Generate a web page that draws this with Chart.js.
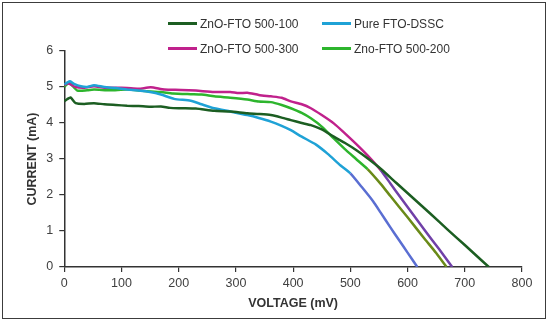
<!DOCTYPE html>
<html>
<head>
<meta charset="utf-8">
<script src="https://cdn.jsdelivr.net/npm/chart.js@4.4.0/dist/chart.umd.min.js"></script>
<style>
  html, body { margin: 0; padding: 0; background: #fff; }
  #wrap { position: relative; width: 550px; height: 323px; }
  #frame {
    position: absolute; left: 2px; top: 2px; width: 544px; height: 317px;
    border: 1.6px solid #3c3c3c; box-sizing: border-box;
  }
  #chart { position: absolute; left: 0; top: 0; }
  #legend {
    position: absolute; left: 168px; top: 13.5px;
    display: grid; grid-template-columns: 154px 160px; row-gap: 5px;
    font-family: "Liberation Sans", Arial, sans-serif; font-size: 12px; color: #333;
  }
  .item { display: flex; align-items: center; height: 20px; white-space: nowrap; }
  .swatch { display: inline-block; width: 29px; height: 3px; margin-right: 3px; }
</style>
</head>
<body>
<div id="wrap">
  <div id="frame"></div>
  <canvas id="chart" width="550" height="323"></canvas>
  <div id="legend"></div>
</div>
<script>
// ZnO-FTO 500-100
const v100 = [0, 5, 11, 20, 35, 52, 70, 90, 110, 130, 150, 169, 185, 204, 230, 262, 290, 320, 340, 361, 380, 396, 415, 431, 450, 471, 490, 510, 530, 553, 580, 610, 640, 670, 700, 720, 742];
const i100 = [4.6, 4.66, 4.71, 4.55, 4.53, 4.55, 4.52, 4.5, 4.48, 4.47, 4.45, 4.46, 4.42, 4.41, 4.4, 4.34, 4.32, 4.27, 4.25, 4.22, 4.15, 4.08, 4.0, 3.94, 3.82, 3.62, 3.45, 3.25, 3.02, 2.73, 2.34, 1.91, 1.48, 1.04, 0.61, 0.32, 0];

// Pure FTO-DSSC
const vPure = [0, 5, 10, 18, 29, 40, 52, 70, 90, 110, 130, 150, 169, 192, 221, 240, 262, 290, 320, 340, 361, 380, 396, 415, 440, 460, 483, 500, 520, 540, 553, 570, 585, 600, 617];
const iPure = [5.07, 5.12, 5.16, 5.08, 5.02, 5.0, 5.05, 5.0, 4.97, 4.93, 4.9, 4.86, 4.79, 4.67, 4.62, 4.52, 4.41, 4.32, 4.22, 4.14, 4.04, 3.92, 3.8, 3.62, 3.4, 3.15, 2.82, 2.6, 2.22, 1.82, 1.51, 1.1, 0.75, 0.4, 0];

// ZnO-FTO 500-300
const v300 = [0, 5, 10, 20, 35, 52, 70, 90, 110, 130, 151, 175, 204, 230, 262, 290, 305, 320, 340, 361, 380, 396, 415, 431, 450, 471, 490, 510, 530, 553, 570, 590, 610, 630, 655, 678];
const i300 = [5.05, 5.1, 5.08, 5.0, 4.98, 5.02, 4.98, 4.98, 4.97, 4.95, 4.99, 4.93, 4.92, 4.9, 4.86, 4.86, 4.83, 4.84, 4.78, 4.74, 4.7, 4.6, 4.52, 4.41, 4.22, 3.99, 3.72, 3.42, 3.1, 2.69, 2.32, 1.88, 1.45, 1.02, 0.5, 0];

// Zno-FTO 500-200
const v200 = [0, 5, 10, 23, 40, 52, 80, 110, 140, 169, 190, 221, 240, 262, 290, 320, 340, 361, 380, 396, 415, 431, 450, 471, 490, 510, 530, 553, 570, 600, 630, 650, 668];
const i200 = [5.0, 5.08, 5.1, 4.9, 4.91, 4.93, 4.91, 4.93, 4.89, 4.86, 4.82, 4.8, 4.79, 4.74, 4.7, 4.65, 4.6, 4.58, 4.5, 4.41, 4.28, 4.13, 3.9, 3.57, 3.28, 3.0, 2.72, 2.31, 1.97, 1.38, 0.78, 0.39, 0];

const xTicks = [0, 100, 200, 300, 400, 500, 600, 700, 800];
const yTicks = [0, 1, 2, 3, 4, 5, 6];

function pts(vs, is) {
  return vs.map((v, k) => ({ x: v, y: is[k] }));
}

// lower part of some curves is drawn in a shifted colour in the original
function series(label, vs, is, color, lowColor) {
  return {
    label: label,
    data: pts(vs, is),
    borderColor: color,
    backgroundColor: color,
    borderWidth: 2.5,
    pointRadius: 0,
    tension: 0.2,
    segment: {
      borderColor: c => (lowColor && c.p0.parsed.y < 2.75) ? lowColor : color
    }
  };
}

const datasets = [
  series('ZnO-FTO 500-100', v100, i100, '#1c5e22', null),
  series('Pure FTO-DSSC', vPure, iPure, '#1fa2d6', '#5a6ed2'),
  series('ZnO-FTO 500-300', v300, i300, '#c0218c', '#7040a8'),
  series('Zno-FTO 500-200', v200, i200, '#2db52d', '#6a8a18')
];

const tickFont = { family: '"Liberation Sans", Arial, sans-serif', size: 12.5 };
const titleFont = { family: '"Liberation Sans", Arial, sans-serif', size: 12.5, weight: 'bold' };

const chart = new Chart(document.getElementById('chart'), {
  type: 'line',
  data: { datasets: datasets },
  options: {
    responsive: false,
    animation: false,
    layout: { padding: { left: 22.8, right: 28, top: 51, bottom: 12 } },
    plugins: { legend: { display: false }, tooltip: { enabled: false } },
    scales: {
      x: {
        type: 'linear',
        min: 0, max: 800,
        afterBuildTicks: s => { s.ticks = xTicks.map(v => ({ value: v })); },
        grid: { drawOnChartArea: false, drawTicks: true, tickLength: 5, color: '#333', lineWidth: 1.2 },
        border: { color: '#333', width: 1.5 },
        ticks: { font: tickFont, color: '#404040', padding: 4, maxRotation: 0 },
        title: { display: true, text: 'VOLTAGE (mV)', font: titleFont, color: '#333', padding: { top: 1, bottom: 0 } }
      },
      y: {
        type: 'linear',
        min: 0, max: 6,
        afterBuildTicks: s => { s.ticks = yTicks.map(v => ({ value: v })); },
        grid: { drawOnChartArea: false, drawTicks: true, tickLength: 5, color: '#333', lineWidth: 1.2 },
        border: { color: '#333', width: 1.5 },
        ticks: { font: tickFont, color: '#404040', padding: 6 },
        title: { display: true, text: 'CURRENT (mA)', font: titleFont, color: '#333', padding: { top: 2, bottom: 0.5 } }
      }
    }
  }
});

// two-column legend like the original
const legendEl = document.getElementById('legend');
chart.data.datasets.forEach(ds => {
  const item = document.createElement('div');
  item.className = 'item';
  const sw = document.createElement('span');
  sw.className = 'swatch';
  sw.style.background = ds.borderColor;
  const txt = document.createElement('span');
  txt.textContent = ds.label;
  item.appendChild(sw);
  item.appendChild(txt);
  legendEl.appendChild(item);
});
</script>
</body>
</html>
